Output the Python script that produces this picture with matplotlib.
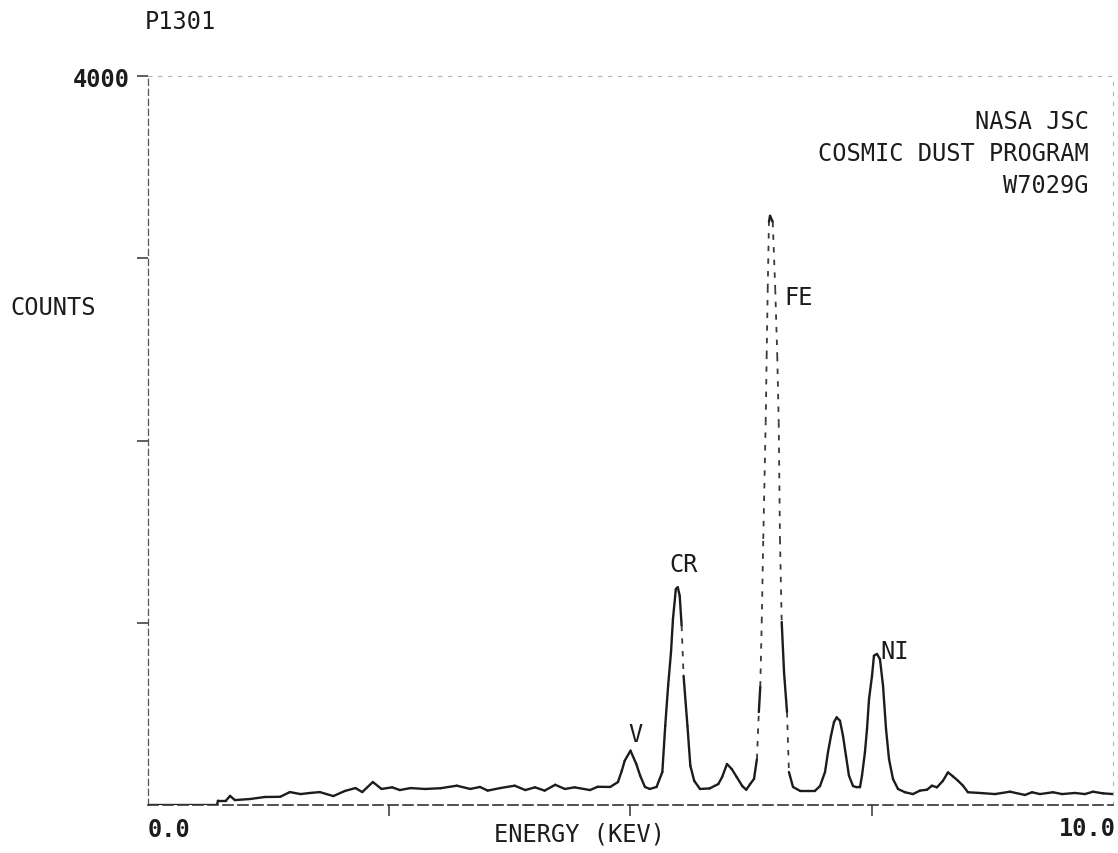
import matplotlib
matplotlib.use("Agg")
import matplotlib.pyplot as plt
import numpy as np
from matplotlib.collections import LineCollection

# EDS spectrum trace (energy in keV, counts)
energy = [
    0.00, 0.715, 0.725, 0.808, 0.85, 0.90, 1.06, 1.21, 1.37, 1.47, 1.58, 1.68,
    1.78, 1.92, 2.04, 2.15, 2.22, 2.33, 2.42, 2.53, 2.61, 2.72, 2.87, 3.03,
    3.20, 3.34, 3.44, 3.52, 3.65, 3.80, 3.91, 4.01, 4.11, 4.22, 4.32, 4.42,
    4.58, 4.66, 4.79, 4.87, 4.91, 4.94, 5.00, 5.06, 5.10, 5.15, 5.20, 5.27,
    5.33, 5.36, 5.39, 5.42, 5.44, 5.47, 5.49, 5.51, 5.53, 5.55, 5.59, 5.62,
    5.66, 5.72, 5.82, 5.91, 5.95, 6.00, 6.05, 6.10, 6.16, 6.20, 6.24, 6.28,
    6.31, 6.33, 6.345, 6.36, 6.376, 6.401, 6.411, 6.422, 6.435, 6.446, 6.474,
    6.500, 6.521, 6.536, 6.549, 6.567, 6.591, 6.622, 6.642, 6.684, 6.756,
    6.839, 6.912, 6.964, 7.016, 7.047, 7.078, 7.109, 7.137, 7.171, 7.202,
    7.233, 7.264, 7.306, 7.347, 7.378, 7.399, 7.430, 7.451, 7.472, 7.503,
    7.523, 7.554, 7.585, 7.617, 7.648, 7.679, 7.720, 7.772, 7.845, 7.927,
    8.000, 8.073, 8.124, 8.176, 8.238, 8.290, 8.342, 8.394, 8.446, 8.497,
    8.622, 8.777, 8.933, 9.088, 9.161, 9.244, 9.378, 9.472, 9.606, 9.710,
    9.793, 9.896, 10.0,
]
counts = [
    0, 0, 24, 24, 50, 27, 33, 44, 45, 71, 60, 66,
    71, 49, 77, 93, 71, 126, 88, 97, 82, 93, 88, 92,
    106, 88, 99, 79, 93, 106, 82, 97, 79, 111, 88, 97,
    82, 100, 99, 126, 188, 243, 298, 225, 161, 99, 88, 99,
    181, 435, 655, 840, 1020, 1185, 1195, 1148, 984, 709, 435, 216,
    133, 88, 91, 115, 154, 225, 197, 154, 103, 84, 115, 143,
    252, 510, 650, 1004, 1460, 2100, 2464, 2831, 3200, 3233, 3200,
    2831, 2464, 2100, 1460, 1004, 730, 510, 181, 99, 78,
    78, 78, 104, 181, 291, 380, 455, 481, 462, 380,
    270, 161, 104, 97, 97, 161, 291, 417, 582, 709,
    819, 829, 801, 655, 417, 252, 143, 88, 70, 60,
    79, 84, 106, 97, 133, 179, 157, 133, 106, 70,
    66, 60, 73, 55, 70, 60, 70, 60, 66, 60,
    73, 64, 60,
]

peak_labels = ["V", "CR", "FE", "NI"]
peak_label_x = [5.05, 5.55, 6.74, 7.74]
peak_label_y = [387, 1320, 2785, 847]

header_lines = ["NASA JSC", "COSMIC DUST PROGRAM", "W7029G"]

FONT = "DejaVu Sans Mono"
INK = "#1c1c1c"

fig = plt.figure(figsize=(11.18, 8.54), dpi=100)
ax = fig.add_axes([0.1324, 0.0562, 0.8631, 0.8536])
ax.set_xlim(0, 10)
ax.set_ylim(0, 4000)

# split the trace: very steep strokes come out broken on the plotter
xy = np.column_stack([energy, counts])
pts = ax.transData.transform(xy)
segs = np.stack([xy[:-1], xy[1:]], axis=1)
dx = np.abs(np.diff(pts[:, 0]))
dy = np.abs(np.diff(pts[:, 1]))
steep = dy > 22 * np.maximum(dx, 0.1)

ax.add_collection(LineCollection(segs[~steep], colors=INK, linewidths=1.7,
                                 capstyle="round", joinstyle="round"))
ax.add_collection(LineCollection(segs[steep], colors="#3a3a3a", linewidths=1.3,
                                 linestyles=[(0, (3, 4))]))

# frame
for side in ["top", "right"]:
    ax.spines[side].set_color("#b5b5b5")
    ax.spines[side].set_linestyle((0, (3, 6)))
    ax.spines[side].set_linewidth(0.8)
ax.spines["left"].set_color("#555555")
ax.spines["left"].set_linestyle((0, (5, 3)))
ax.spines["left"].set_linewidth(0.9)
ax.spines["bottom"].set_color("#333333")
ax.spines["bottom"].set_linestyle((0, (6, 3)))
ax.spines["bottom"].set_linewidth(1.2)

ax.set_yticks([1000, 2000, 3000, 4000])
ax.set_yticklabels(["", "", "", "4000"], fontfamily=FONT, fontsize=17,
                   color=INK, fontweight="bold")
ax.set_xticks([2.5, 5.0, 7.5])
ax.set_xticklabels([])
ax.tick_params(axis="both", direction="out", length=8, width=1.1, color="#333333")
ax.tick_params(axis="y", pad=5)

for lab, x, y in zip(peak_labels, peak_label_x, peak_label_y):
    ax.text(x, y, lab, ha="center", va="center", fontfamily=FONT,
            fontsize=17, color=INK)

ax.text(0.975, 0.955, "\n".join(header_lines), transform=ax.transAxes,
        ha="right", va="top", fontfamily=FONT, fontsize=17, color=INK,
        linespacing=1.42)

fig.text(145 / 1118, 1 - 22 / 854, "P1301", ha="left", va="center",
         fontfamily=FONT, fontsize=17, color=INK)
fig.text(10 / 1118, 1 - 308 / 854, "COUNTS", ha="left", va="center",
         fontfamily=FONT, fontsize=17, color=INK)
fig.text(148 / 1118, 1 - 830 / 854, "0.0", ha="left", va="center",
         fontfamily=FONT, fontsize=17, color=INK, fontweight="bold")
fig.text(1116 / 1118, 1 - 829 / 854, "10.0", ha="right", va="center",
         fontfamily=FONT, fontsize=17, color=INK, fontweight="bold")
fig.text(580 / 1118, 1 - 835 / 854, "ENERGY (KEV)", ha="center", va="center",
         fontfamily=FONT, fontsize=17, color=INK)

fig.savefig("out.png", dpi=100, facecolor="white")
